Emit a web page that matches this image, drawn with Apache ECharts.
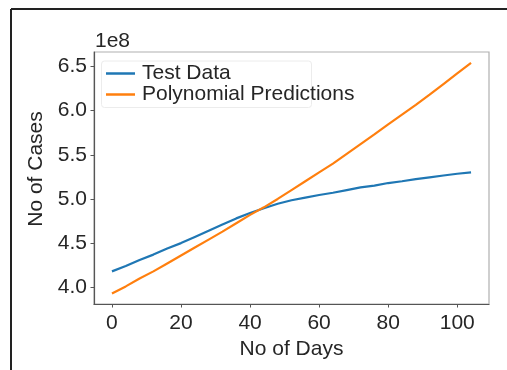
<!DOCTYPE html>
<html>
<head>
<meta charset="utf-8">
<script src="https://cdn.jsdelivr.net/npm/echarts@6/dist/echarts.min.js"></script>
<style>
html,body{margin:0;padding:0;background:#fff;}
#c{width:507px;height:370px;}
</style>
</head>
<body>
<div id="c"></div>
<script>
// Days (x) and values in units of 1e8
const days = [0,4,8,12,16,20,24,28,32,36,40,44,48,52,56,60,64,68,72,76,80,84,88,92,96,100,104];
const testData = [4.18,4.24,4.31,4.37,4.44,4.50,4.57,4.64,4.71,4.78,4.84,4.895,4.945,4.985,5.015,5.045,5.07,5.10,5.13,5.15,5.18,5.20,5.225,5.245,5.265,5.285,5.30];
const polyPred = [3.93,4.01,4.10,4.18,4.27,4.36,4.45,4.54,4.63,4.725,4.82,4.905,5.00,5.10,5.20,5.30,5.40,5.51,5.62,5.73,5.845,5.955,6.065,6.18,6.30,6.42,6.54];
const xTicks = [0,20,40,60,80,100];
const yTicks = [4.0,4.5,5.0,5.5,6.0,6.5];
const seriesNames = ['Test Data','Polynomial Predictions'];
const colors = ['#1f77b4','#ff7f0e'];

const font = 'Liberation Sans, Arial, sans-serif';
const chart = echarts.init(document.getElementById('c'), null, {renderer:'canvas'});
const pair = (xs, ys) => xs.map((x,i)=>[x, ys[i]]);

chart.setOption({
  animation:false,
  backgroundColor:'#fff',
  textStyle:{fontFamily:font},
  grid:{left:94, right:18, top:52, bottom:66, show:true, borderColor:'#b0b0b0', borderWidth:1.2, backgroundColor:'transparent'},
  graphic:[
    {type:'line', shape:{x1:11, y1:9, x2:507, y2:9}, style:{stroke:'#222', lineWidth:2}, silent:true},
    {type:'line', shape:{x1:11, y1:9, x2:11, y2:370}, style:{stroke:'#222', lineWidth:2}, silent:true},
    {type:'rect', shape:{x:101.5, y:61, width:210, height:46.5, r:3}, style:{fill:'#fff', stroke:'#ececec', lineWidth:1}, z:50, silent:true},
    {type:'text', left:95, top:31, style:{text:'1e8', font:'21px '+font, fill:'#262626'}, z:60}
  ],
  legend:{
    data:seriesNames, orient:'vertical', left:102, top:63, padding:[0,0,0,4],
    itemWidth:29, itemHeight:2.5, itemGap:0, icon:'rect', z:100,
    textStyle:{fontSize:21, fontFamily:font, color:'#262626', lineHeight:19.5, padding:[0,0,0,2]}
  },
  xAxis:{
    type:'value', min:-5.2, max:109.2, interval:20,
    name:'No of Days', nameLocation:'middle', nameGap:30,
    nameTextStyle:{fontSize:21, color:'#262626', fontFamily:font},
    axisLine:{show:true, onZero:false, lineStyle:{color:'#555', width:1.2}},
    axisTick:{show:true, length:3.5, lineStyle:{color:'#555'}, customValues:xTicks},
    axisLabel:{fontSize:21, color:'#262626', margin:9, fontFamily:font, customValues:xTicks, formatter:v=>String(v)},
    splitLine:{show:false}
  },
  yAxis:{
    type:'value', min:3.811, max:6.663,
    name:'No of Cases', nameLocation:'middle', nameGap:46,
    nameTextStyle:{fontSize:21, color:'#262626', fontFamily:font, padding:[0,0,0,18]},
    axisLine:{show:true, onZero:false, lineStyle:{color:'#555', width:1.2}},
    axisTick:{show:true, length:3.5, lineStyle:{color:'#555'}, customValues:yTicks},
    axisLabel:{fontSize:21, color:'#262626', margin:7, fontFamily:font, customValues:yTicks, formatter:v=>v.toFixed(1)},
    splitLine:{show:false}
  },
  series:[
    {name:seriesNames[0], type:'line', data:pair(days,testData), showSymbol:false, smooth:false, lineStyle:{width:2.2, color:colors[0]}, itemStyle:{color:colors[0]}},
    {name:seriesNames[1], type:'line', data:pair(days,polyPred), showSymbol:false, smooth:false, lineStyle:{width:2.2, color:colors[1]}, itemStyle:{color:colors[1]}}
  ]
});
</script>
</body>
</html>
